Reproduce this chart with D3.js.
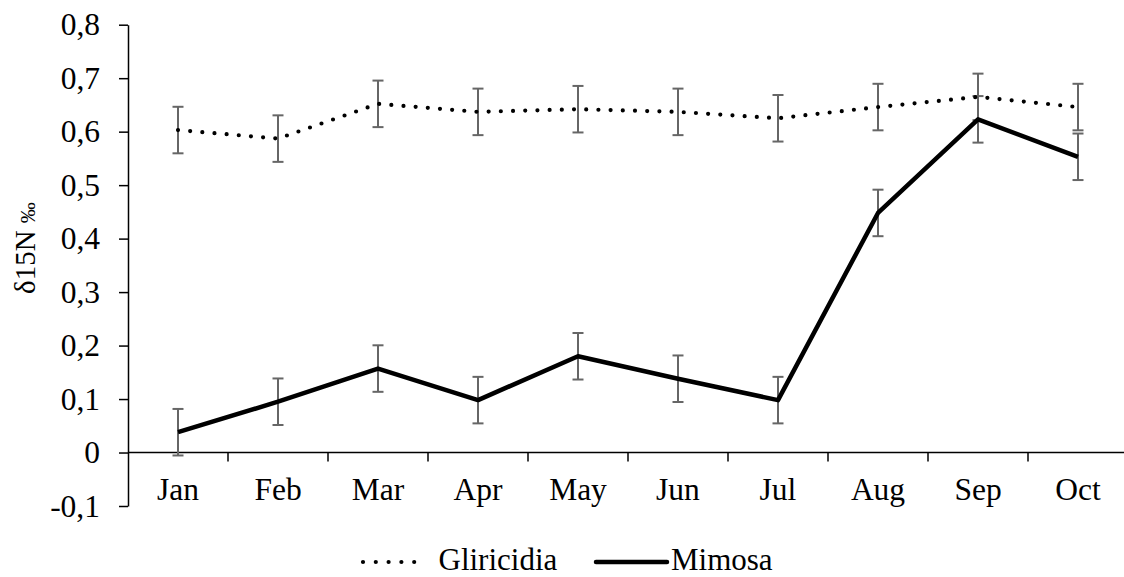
<!DOCTYPE html>
<html>
<head>
<meta charset="utf-8">
<script src="https://cdn.jsdelivr.net/npm/d3@7"></script>
<style>
  html, body { margin: 0; padding: 0; background: #fff; }
  svg { display: block; }
</style>
</head>
<body>
<svg id="chart" width="1124" height="577"></svg>
<script>
// Monthly δ15N values for the two species, with error-bar half widths
const months = ["Jan", "Feb", "Mar", "Apr", "May", "Jun", "Jul", "Aug", "Sep", "Oct"];
const gliricidia = [0.603, 0.587, 0.652, 0.637, 0.642, 0.637, 0.625, 0.646, 0.665, 0.646];
const gliricidiaErr = [0.0435, 0.0435, 0.0435, 0.0435, 0.0435, 0.0435, 0.0435, 0.0435, 0.0435, 0.0435];
const mimosa = [0.038, 0.095, 0.157, 0.098, 0.180, 0.138, 0.098, 0.448, 0.623, 0.553];
const mimosaErr = [0.0435, 0.0435, 0.0435, 0.0435, 0.0435, 0.0435, 0.0435, 0.0435, 0.0435, 0.0435];
const yTicks = [-0.1, 0, 0.1, 0.2, 0.3, 0.4, 0.5, 0.6, 0.7, 0.8];

const svg = d3.select("#chart");
const plotLeft = 128, plotRight = 1128, plotTop = 24.7, plotBottom = 506;
const fontFamily = '"Liberation Serif", "Times New Roman", serif';
const fontSize = "31.5px";

const label = (sel, size = fontSize) =>
  sel.style("font-family", fontFamily).style("font-size", size).style("fill", "#000");

const x = d3.scaleBand().domain(months).range([plotLeft, plotRight]).padding(0);
const cx = d => x(d) + x.bandwidth() / 2;
const y = d3.scaleLinear().domain([-0.1, 0.8]).range([plotBottom, plotTop]);

const fmt = v => (Math.abs(v) < 1e-9 ? "0" : v.toFixed(1).replace(".", ","));

// Y axis
const yAxis = svg.append("g")
  .attr("transform", `translate(${plotLeft},0)`)
  .call(d3.axisLeft(y).tickValues(yTicks).tickFormat(fmt).tickSize(9).tickSizeOuter(0).tickPadding(19));
yAxis.select(".domain").attr("stroke", "#000").attr("stroke-width", 1.5);
yAxis.selectAll(".tick line").attr("stroke", "#000").attr("stroke-width", 1.5);
yAxis.selectAll(".tick text").call(label);

// X axis along zero, with ticks at category boundaries
const y0 = y(0);
svg.append("line")
  .attr("x1", plotLeft).attr("x2", plotRight)
  .attr("y1", y0).attr("y2", y0)
  .attr("stroke", "#000").attr("stroke-width", 1.5);
const edges = months.map(m => x(m) + x.bandwidth());
svg.append("g").selectAll("line").data(edges).join("line")
  .attr("x1", d => d).attr("x2", d => d)
  .attr("y1", y0).attr("y2", y0 + 9)
  .attr("stroke", "#000").attr("stroke-width", 1.5);
svg.append("g").selectAll("text").data(months).join("text")
  .attr("x", d => cx(d))
  .attr("y", 500)
  .attr("text-anchor", "middle")
  .call(label)
  .text(d => d);

// Y axis title
const title = svg.append("text")
  .attr("transform", "translate(35,294) rotate(-90)")
  .attr("text-anchor", "start")
  .call(label, "29px");
title.append("tspan").text("δ15N ");
title.append("tspan").style("font-size", "21px").text("‰");

// Error bars
function errorBars(values, errs) {
  const g = svg.append("g").attr("stroke", "#666").attr("stroke-width", 2);
  const data = months.map((m, i) => ({ m, v: values[i], e: errs[i] }));
  g.selectAll("line.v").data(data).join("line").attr("class", "v")
    .attr("x1", d => cx(d.m)).attr("x2", d => cx(d.m))
    .attr("y1", d => y(d.v + d.e)).attr("y2", d => y(d.v - d.e));
  [1, -1].forEach(s => {
    g.selectAll("line.c" + s).data(data).join("line")
      .attr("class", "c" + s)
      .attr("x1", d => cx(d.m) - 5.5).attr("x2", d => cx(d.m) + 5.5)
      .attr("y1", d => y(d.v + s * d.e))
      .attr("y2", d => y(d.v + s * d.e));
  });
}
errorBars(gliricidia, gliricidiaErr);
errorBars(mimosa, mimosaErr);

// Series lines
const line = d3.line().x((d, i) => cx(months[i])).y(d => y(d));
svg.append("path")
  .datum(gliricidia)
  .attr("d", line)
  .attr("fill", "none")
  .attr("stroke", "#000")
  .attr("stroke-width", 4.2)
  .attr("stroke-linecap", "round")
  .attr("stroke-dasharray", "0 12.2");
svg.append("path")
  .datum(mimosa)
  .attr("d", line)
  .attr("fill", "none")
  .attr("stroke", "#000")
  .attr("stroke-width", 4.5)
  .attr("stroke-linejoin", "round");

// Legend
const ly = 562;
const legend = svg.append("g");
legend.append("line")
  .attr("x1", 363).attr("x2", 427).attr("y1", ly).attr("y2", ly)
  .attr("stroke", "#000").attr("stroke-width", 4.2)
  .attr("stroke-linecap", "round").attr("stroke-dasharray", "0 12.8");
legend.append("text").attr("x", 438.5).attr("y", 570).call(label, "31px").text("Gliricidia");
legend.append("line")
  .attr("x1", 596).attr("x2", 667).attr("y1", ly).attr("y2", ly)
  .attr("stroke", "#000").attr("stroke-width", 4.5).attr("stroke-linecap", "round");
legend.append("text").attr("x", 671).attr("y", 570).call(label, "31px").text("Mimosa");
</script>
</body>
</html>
